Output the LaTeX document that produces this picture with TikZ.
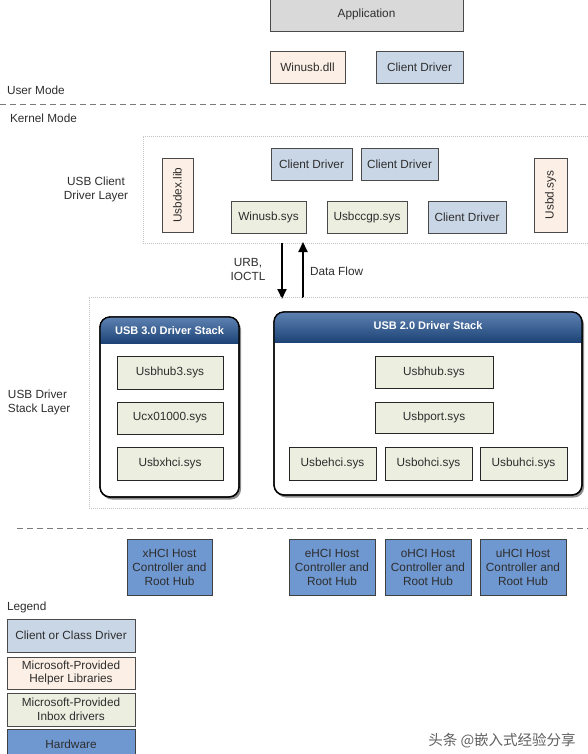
\documentclass[tikz,border=0pt]{standalone}
\usepackage{fontspec}
\setmainfont{Liberation Sans}
\newfontfamily\cjkfont{Noto Sans CJK SC}
\usetikzlibrary{arrows.meta,shadows}
\definecolor{appgray}{HTML}{D9D9D9}
\definecolor{peach}{HTML}{FCEFE5}
\definecolor{cdblue}{HTML}{C9D6E6}
\definecolor{inbox}{HTML}{ECEEE0}
\definecolor{hwblue}{HTML}{6F97D0}
\definecolor{hdtop}{HTML}{5D82B2}
\definecolor{hdbot}{HTML}{1E4477}
\definecolor{bordc}{HTML}{4A4A4A}
\definecolor{dashc}{HTML}{7A7A7A}
\definecolor{dotc}{HTML}{C4C4C4}
\definecolor{txtc}{HTML}{2E2E2E}
\tikzset{
  base/.style={draw=bordc, line width=0.8pt, inner sep=0pt, outer sep=0pt, align=center, text=txtc, font=\fontsize{11.8}{13.8}\selectfont},
  appbox/.style={base, fill=appgray},
  helperbox/.style={base, fill=peach},
  clientbox/.style={base, fill=cdblue},
  inboxbox/.style={base, fill=inbox},
  stackbox/.style={base, fill=inbox, draw=black!85, line width=1pt,
     drop shadow={shadow xshift=1.2pt, shadow yshift=-1.2pt, fill=black!75, opacity=1}},
  hwbox/.style={base, fill=hwblue, draw=black!75, font=\fontsize{11.8}{14}\selectfont},
  container/.style={draw=black, line width=1.3pt, fill=white, rounded corners=10pt, inner sep=0pt, outer sep=0pt,
     drop shadow={shadow xshift=2pt, shadow yshift=-2.5pt, fill=black!45, opacity=1}},
  layerbox/.style={draw=dotc, line width=0.6pt, dash pattern=on 1pt off 1pt},
  sepline/.style={draw=dashc, line width=1pt, dash pattern=on 6pt off 4pt},
  label/.style={inner sep=0pt, outer sep=0pt, text=txtc, font=\fontsize{11.8}{13.8}\selectfont},
  hdtitle/.style={inner sep=0pt, text=white, font=\bfseries\fontsize{11}{13}\selectfont},
  flow/.style={line width=1.8pt, -{Triangle[width=9pt,length=10pt]}},
}
\begin{document}
\begin{tikzpicture}[x=1pt,y=-1pt]
\useasboundingbox[fill=white] (0,0) rectangle (588,754);

% user mode
\node[appbox, minimum width=193pt, minimum height=34pt] (app) at (366.5,14) {Application};
\node[helperbox, minimum width=75pt, minimum height=32pt] (wdll) at (307.5,67) {Winusb.dll};
\node[clientbox, minimum width=87pt, minimum height=32pt] (cdu) at (419.5,67) {Client Driver};
\node[label, anchor=west] (um) at (7,90) {User Mode};
\coordinate (sep1l) at (0,105);
\coordinate (sep1r) at (588,105);
\draw[sepline] (sep1l) -- (sep1r);
\node[label, anchor=west] (km) at (10,118) {Kernel Mode};

% client driver layer
\node[layerbox, minimum width=450pt, minimum height=107pt, inner sep=0pt, anchor=north west] (cdl) at (143,136) {};
\node[label, align=center] (cdllab) at (96,189.5) {USB Client\\Driver Layer};
\node[helperbox, rotate=90, minimum width=74pt, minimum height=31pt] (usbdex) at (177.5,195) {Usbdex.lib};
\node[clientbox, minimum width=81pt, minimum height=32pt] (cd1) at (311.5,164) {Client Driver};
\node[clientbox, minimum width=77pt, minimum height=32pt] (cd2) at (399.5,164) {Client Driver};
\node[inboxbox, minimum width=75pt, minimum height=32pt] (winsys) at (268.5,217) {Winusb.sys};
\node[inboxbox, minimum width=80pt, minimum height=32pt] (ccgp) at (367,217) {Usbccgp.sys};
\node[clientbox, minimum width=78pt, minimum height=32pt] (cd3) at (467,217) {Client Driver};
\node[helperbox, rotate=90, minimum width=74pt, minimum height=33pt] (usbd) at (550.5,195) {Usbd.sys};

% flow arrows
\coordinate (dnA) at (282,243);
\coordinate (dnB) at (282,299);
\coordinate (upA) at (303,298);
\coordinate (upB) at (303,242);
\draw[flow] (dnA) -- (dnB);
\draw[flow] (upA) -- (upB);
\node[label, align=center] (urb) at (248,269.5) {URB,\\IOCTL};
\node[label, anchor=west] (df) at (310,271.5) {Data Flow};

% driver stack layer
\node[layerbox, minimum width=504pt, minimum height=211pt, inner sep=0pt, anchor=north west] (sdl) at (89,297) {};
\node[label, align=left, anchor=west] (sdllab) at (8,402.5) {USB Driver\\Stack Layer};

% USB 3.0 container
\node[container, minimum width=139pt, minimum height=180pt, anchor=north west] (s3) at (100,317) {};
\begin{scope}
  \clip[rounded corners=10pt] (s3.north west) rectangle (s3.south east);
  \shade[top color=hdtop, bottom color=hdbot] (100,317) rectangle (239,343);
\end{scope}
\draw[line width=1.3pt, rounded corners=10pt] (s3.north west) rectangle (s3.south east);
\node[hdtitle] (s3t) at (169.5,331) {USB 3.0 Driver Stack};

% USB 2.0 container
\node[container, minimum width=308pt, minimum height=183pt, anchor=north west] (s2) at (274,312) {};
\begin{scope}
  \clip[rounded corners=10pt] (s2.north west) rectangle (s2.south east);
  \shade[top color=hdtop, bottom color=hdbot] (274,312) rectangle (582,342);
\end{scope}
\draw[line width=1.3pt, rounded corners=10pt] (s2.north west) rectangle (s2.south east);
\node[hdtitle] (s2t) at (428,325.5) {USB 2.0 Driver Stack};

\node[stackbox, minimum width=106pt, minimum height=33pt] (hub3) at (170,372.5) {Usbhub3.sys};
\node[stackbox, minimum width=106pt, minimum height=32pt] (ucx) at (170,418) {Ucx01000.sys};
\node[stackbox, minimum width=106pt, minimum height=33pt] (xhci) at (170,463.5) {Usbxhci.sys};

\node[stackbox, minimum width=118pt, minimum height=32pt] (hub) at (434,372) {Usbhub.sys};
\node[stackbox, minimum width=118pt, minimum height=31pt] (port) at (434,417.5) {Usbport.sys};
\node[stackbox, minimum width=87pt, minimum height=33pt] (ehci) at (332.5,463.5) {Usbehci.sys};
\node[stackbox, minimum width=87pt, minimum height=33pt] (ohci) at (428.5,463.5) {Usbohci.sys};
\node[stackbox, minimum width=87pt, minimum height=33pt] (uhci) at (523.5,463.5) {Usbuhci.sys};

% hardware
\coordinate (sep2l) at (17,528.5);
\coordinate (sep2r) at (588,528.5);
\draw[sepline] (sep2l) -- (sep2r);
\node[hwbox, minimum width=85pt, minimum height=56pt] (hwx) at (169.5,567) {xHCI Host\\Controller and\\Root Hub};
\node[hwbox, minimum width=86pt, minimum height=56pt] (hwe) at (332,567) {eHCI Host\\Controller and\\Root Hub};
\node[hwbox, minimum width=86pt, minimum height=56pt] (hwo) at (428,567) {oHCI Host\\Controller and\\Root Hub};
\node[hwbox, minimum width=86pt, minimum height=56pt] (hwu) at (523,567) {uHCI Host\\Controller and\\Root Hub};

% legend
\node[label, anchor=west] (leg) at (7,607.5) {Legend};
\node[clientbox, minimum width=128pt, minimum height=33pt] (lg1) at (71,635.5) {Client or Class Driver};
\node[helperbox, minimum width=128pt, minimum height=32pt] (lg2) at (71,673) {Microsoft-Provided\\Helper Libraries};
\node[inboxbox, minimum width=128pt, minimum height=33pt] (lg3) at (71,709.5) {Microsoft-Provided\\Inbox drivers};
\node[hwbox, minimum width=128pt, minimum height=33pt, anchor=north] (lg4) at (71,729) {};
\node[label] (lg4t) at (71,744) {Hardware};

% watermark
\node[inner sep=0pt, text=black!62, font=\cjkfont\fontsize{14.5}{16}\selectfont] (wm) at (502,741) {头条 @嵌入式经验分享};
\end{tikzpicture}
\end{document}
